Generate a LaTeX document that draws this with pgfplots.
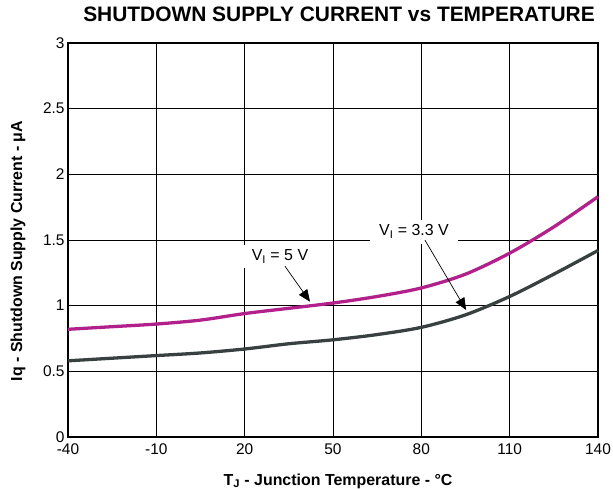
\documentclass[border=0pt]{standalone}
\usepackage{pgfplots}
\pgfplotsset{compat=1.18}
\usepackage{fontspec}
\setmainfont{Liberation Sans}
\usetikzlibrary{arrows.meta}
\definecolor{fivev}{RGB}{178,32,140}
\definecolor{threev}{RGB}{56,64,64}
\begin{document}
\begin{tikzpicture}
\begin{axis}[
  scale only axis,
  width=530bp, height=394bp,
  xmin=-40, xmax=140, ymin=0, ymax=3,
  xtick={-40,-10,20,50,80,110,140},
  ytick={0,0.5,1,1.5,2,2.5,3},
  yticklabels={0,0.5,1,1.5,2,2.5,3},
  xmajorgrids, ymajorgrids,
  grid style={black, line width=0.9pt},
  axis line style={black, line width=2pt},
  tick style={draw=none},
  tick label style={font=\fontsize{15.5}{17}\selectfont},
  xticklabel style={yshift=-3bp},
  /pgf/number format/assume math mode=true,
  title={\bfseries SHUTDOWN SUPPLY CURRENT vs TEMPERATURE},
  title style={font=\fontsize{21}{24}\selectfont, at={(axis description cs:0.5,1)}, anchor=base, yshift=16bp, xshift=6bp},
  xlabel={\bfseries T\textsubscript{J} - Junction Temperature - °C},
  ylabel={\bfseries Iq - Shutdown Supply Current - μA},
  label style={font=\fontsize{16}{18}\selectfont},
  xlabel style={at={(axis description cs:0.5,0)}, anchor=base, yshift=-48bp, xshift=5bp},
  ylabel style={at={(axis description cs:0,0.472)}, anchor=center, rotate=0, yshift=50bp},
  clip=false,
]
\addplot[color=fivev, line width=3.3pt, smooth] coordinates {
  (-40,0.82) (-25,0.84) (-10,0.86) (5,0.89) (20,0.94) (35,0.98) (50,1.02)
  (65,1.07) (80,1.135) (95,1.24) (110,1.40) (125,1.60) (140,1.83)
};
\addplot[color=threev, line width=3.3pt, smooth] coordinates {
  (-40,0.58) (-25,0.60) (-10,0.62) (5,0.64) (20,0.67) (35,0.71) (50,0.74)
  (65,0.78) (80,0.835) (95,0.93) (110,1.07) (125,1.24) (140,1.42)
};
\node[fill=white, inner xsep=9bp, inner ysep=5bp, font=\fontsize{16}{18}\selectfont] at (axis cs:32,1.373) {V\textsubscript{I} = 5 V};
\draw[line width=0.7pt, -{Triangle[length=12bp, width=10bp]}] (axis cs:33.7,1.30) -- (axis cs:42.2,1.03);
\node[fill=white, inner xsep=9bp, inner ysep=5bp, font=\fontsize{16}{18}\selectfont] at (axis cs:77.5,1.563) {V\textsubscript{I} = 3.3 V};
\draw[line width=0.7pt, -{Triangle[length=12bp, width=10bp]}] (axis cs:81.2,1.50) -- (axis cs:95.2,0.967);
\end{axis}
\pgfresetboundingbox
\path (-68bp,-52bp) rectangle (545bp,437bp);
\end{tikzpicture}
\end{document}
